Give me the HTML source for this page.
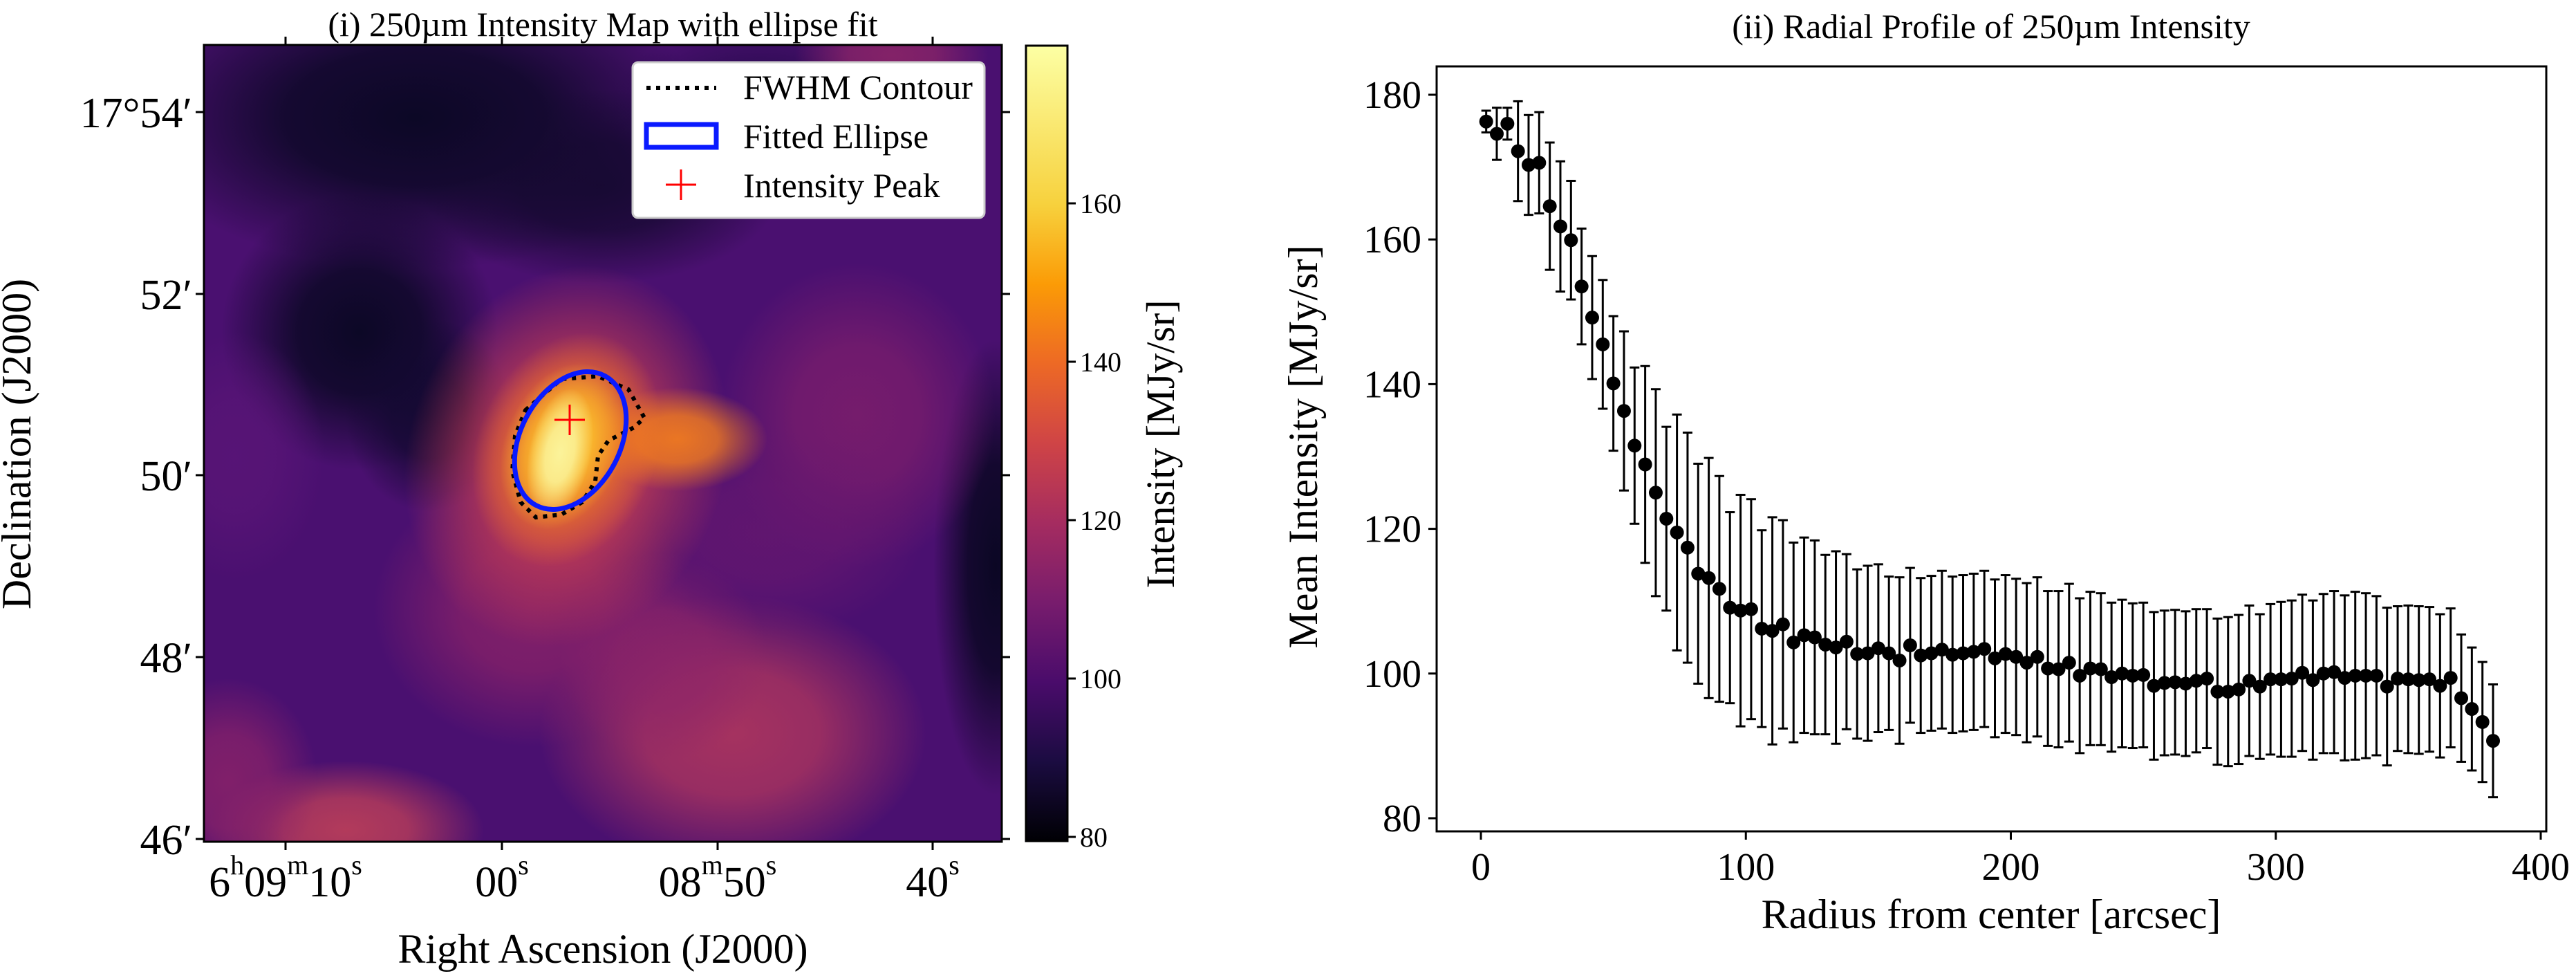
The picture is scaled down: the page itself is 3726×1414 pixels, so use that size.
<!DOCTYPE html>
<html><head><meta charset="utf-8"><style>
html,body{margin:0;padding:0;background:#fff;}
svg, svg text{font-family:"Liberation Serif","DejaVu Serif",serif;}
</style></head><body>
<svg id="fig" width="3726" height="1409" viewBox="0 0 3726 1409" xmlns="http://www.w3.org/2000/svg" font-family="Liberation Serif, serif">
<defs id="defs">
<clipPath id="mapclip"><rect x="295" y="65" width="1154" height="1152"/></clipPath>
<linearGradient id="cbgrad" x1="0" y1="1" x2="0" y2="0">
<stop offset="0" stop-color="#000004"/><stop offset="0.1" stop-color="#1b0c41"/><stop offset="0.2" stop-color="#4a0c6b"/><stop offset="0.3" stop-color="#781c6d"/><stop offset="0.4" stop-color="#a52c60"/><stop offset="0.5" stop-color="#cf4446"/><stop offset="0.6" stop-color="#ed6925"/><stop offset="0.7" stop-color="#fb9b06"/><stop offset="0.8" stop-color="#f7d13d"/><stop offset="1" stop-color="#fcffa4"/>
</linearGradient>
</defs>

<text x="872" y="52" font-size="50" text-anchor="middle">(i) 250µm Intensity Map with ellipse fit</text>
<g clip-path="url(#mapclip)">
<rect x="295" y="65" width="1154" height="1152" fill="#4a1070"/>
<g id="blobs"></g>
</g>
<rect x="295" y="65" width="1154" height="1152" fill="none" stroke="#000" stroke-width="3"/>
<path d="M760,593 L812,548 L865,544 L909,563 L932,604 L917,618 L880,637 L865,659 L861,696 L842,726 L812,744 L775,748 L753,726 L741,681 L745,630 Z" fill="none" stroke="#000" stroke-width="6" stroke-dasharray="6,8"/>
<ellipse cx="825" cy="637" rx="72" ry="106" transform="rotate(28 825 637)" fill="none" stroke="#0a1aff" stroke-width="7"/>
<g stroke="#ff0000" stroke-width="3"><line x1="802" y1="607" x2="846" y2="607"/><line x1="824" y1="585" x2="824" y2="629"/></g>

<g>
<rect x="915" y="90" width="509" height="225" rx="8" fill="#fff" stroke="#ccc" stroke-width="3"/>
<line x1="935" y1="127" x2="1036" y2="127" stroke="#000" stroke-width="6" stroke-dasharray="6,8"/>
<rect x="935" y="180" width="101" height="33" fill="none" stroke="#0a1aff" stroke-width="7"/>
<g stroke="#ff0000" stroke-width="3"><line x1="963" y1="267" x2="1007" y2="267"/><line x1="985" y1="245" x2="985" y2="289"/></g>
<text x="1075" y="143" font-size="50">FWHM Contour</text>
<text x="1075" y="214" font-size="50">Fitted Ellipse</text>
<text x="1075" y="285" font-size="50">Intensity Peak</text>
</g>

<g id="mapaxes"></g>
<text transform="translate(44,642) rotate(-90)" font-size="60" text-anchor="middle">Declination (J2000)</text>
<text x="872" y="1392" font-size="60" text-anchor="middle">Right Ascension (J2000)</text>

<rect x="1484" y="66" width="60" height="1150" fill="url(#cbgrad)" stroke="#000" stroke-width="3"/>
<g id="cbaxis"></g>
<text transform="translate(1698,642) rotate(-90)" font-size="58" text-anchor="middle">Intensity [MJy/sr]</text>

<text x="2880" y="55" font-size="50" text-anchor="middle">(ii) Radial Profile of 250µm Intensity</text>
<g id="profile"></g>
<rect x="2078" y="96" width="1605" height="1106" fill="none" stroke="#000" stroke-width="3"/>
<text transform="translate(1905,646) rotate(-90)" font-size="60" text-anchor="middle">Mean Intensity [MJy/sr]</text>
<text x="2880" y="1342" font-size="60" text-anchor="middle">Radius from center [arcsec]</text>
</svg>
<script>
const radii = [2,6,10,14,18,22,26,30,34,38,42,46,50,54,58,62,66,70,74,78,82,86,90,94,98,102,106,110,114,118,122,126,130,134,138,142,146,150,154,158,162,166,170,174,178,182,186,190,194,198,202,206,210,214,218,222,226,230,234,238,242,246,250,254,258,262,266,270,274,278,282,286,290,294,298,302,306,310,314,318,322,326,330,334,338,342,346,350,354,358,362,366,370,374,378,382];
const meanIntensity = [176.3,174.6,176.0,172.2,170.3,170.6,164.6,161.8,159.9,153.5,149.2,145.5,140.1,136.3,131.5,128.9,125.0,121.4,119.5,117.4,113.8,113.2,111.7,109.1,108.7,108.9,106.2,105.9,106.8,104.3,105.3,105.0,104.0,103.6,104.4,102.7,102.8,103.5,102.8,101.8,103.9,102.5,102.8,103.3,102.6,102.8,103.0,103.4,102.1,102.7,102.3,101.5,102.3,100.7,100.6,101.5,99.7,100.7,100.6,99.5,100.0,99.7,99.8,98.3,98.7,98.8,98.6,99.0,99.3,97.5,97.5,97.8,99.0,98.2,99.2,99.2,99.3,100.1,99.1,100.0,100.2,99.4,99.7,99.7,99.7,98.2,99.3,99.2,99.1,99.2,98.3,99.4,96.6,95.1,93.3,90.7];
const errors = [1.5,3.6,2.2,6.9,6.9,7.0,8.8,9.0,8.2,8.0,8.5,8.9,9.3,11.0,10.8,13.6,14.3,12.7,16.3,15.9,15.2,16.6,15.6,13.2,16.0,15.2,13.6,15.7,14.4,13.8,13.5,13.4,12.4,13.3,12.1,11.7,12.1,11.6,10.6,11.5,10.7,10.7,10.7,10.9,10.8,10.8,10.8,10.8,10.9,10.9,10.8,11.0,11.0,10.7,10.8,10.9,10.7,10.6,10.5,10.3,10.2,10.0,10.0,10.2,10.0,10.0,10.0,9.9,9.6,10.1,10.3,10.3,10.4,10.0,10.4,10.7,10.8,10.8,11.0,11.0,11.2,11.4,11.6,11.4,11.0,10.9,10.0,10.2,10.2,10.0,9.9,9.6,8.8,8.5,8.3,7.8];
const xTicks = [0,100,200,300,400];
const yTicks = [80,100,120,140,160,180];
const cbTicks = [80,100,120,140,160];
const decTickLabels = ["17°54′","52′","50′","48′","46′"];
const raTickLabels = [["6","h","09","m","10","s"],["00","s"],["08","m","50","s"],["40","s"]];

const NS="http://www.w3.org/2000/svg";
const FONT='"Liberation Serif", serif';
function mk(tag, attrs, parent){const e=document.createElementNS(NS,tag);for(const k in attrs)e.setAttribute(k,attrs[k]);parent.appendChild(e);return e;}

// map blobs: cx, cy, rx, ry, color, opacity, rotation
const blobs = [
 [600,170,420,220,'#0c0826',1,0],
 [870,270,260,140,'#14092f',0.9,0],
 [1100,160,220,130,'#240a4a',0.8,0],
 [520,480,200,200,'#0c0826',1,0],
 [620,600,120,140,'#120930',0.9,0],
 [340,660,130,180,'#5a1577',0.8,0],
 [1440,820,90,330,'#0b0724',1,0],
 [1240,600,200,220,'#7a1d6c',0.9,0],
 [1290,80,140,70,'#8a2467',0.9,0],
 [1060,1060,280,200,'#aa345f',0.95,0],
 [960,950,150,150,'#8e2568',0.8,0],
 [500,1200,200,100,'#b83d5a',0.95,0],
 [330,1130,130,150,'#8a2269',0.85,0],
 [770,880,230,200,'#8a2268',0.85,0],
 [1110,770,230,150,'#6a186f',0.7,0],
 [820,660,230,280,'#c43d52',1,18],
 [980,635,130,75,'#ef7a20',0.95,0],
 [820,650,130,175,'#f07a22',1,22],
 [815,645,85,125,'#fbc02e',1,22],
 [810,655,45,95,'#fbf39a',1,12]
];
const defs=document.getElementById('defs');
const bg=document.getElementById('blobs');
blobs.forEach((b,i)=>{
  const g=mk('radialGradient',{id:'bg'+i},defs);
  mk('stop',{offset:0,'stop-color':b[4],'stop-opacity':b[5]},g);
  mk('stop',{offset:0.45,'stop-color':b[4],'stop-opacity':b[5]*0.85},g);
  mk('stop',{offset:1,'stop-color':b[4],'stop-opacity':0},g);
  const e=mk('ellipse',{cx:b[0],cy:b[1],rx:b[2],ry:b[3],fill:'url(#bg'+i+')',transform:`rotate(${b[6]} ${b[0]} ${b[1]})`},bg);
  
  
});

const xS = r => 2142 + r*1533/400;
const yS = v => 1183 - (v-80)*10.46;
const prof = document.getElementById('profile');
radii.forEach((r,i)=>{
  const x=xS(r), v=meanIntensity[i], e=errors[i];
  const g=mk('g',{stroke:'#000','stroke-width':3},prof);
  
  
  mk('line',{x1:x,y1:yS(v+e),x2:x,y2:yS(v-e)},g);
  mk('line',{x1:x-7,y1:yS(v+e),x2:x+7,y2:yS(v+e)},g);
  mk('line',{x1:x-7,y1:yS(v-e),x2:x+7,y2:yS(v-e)},g);
});
radii.forEach((r,i)=>{
  const c=mk('circle',{cx:xS(r),cy:yS(meanIntensity[i]),r:10,fill:'#000'},prof);
  
  
});
xTicks.forEach(t=>{
  const x=xS(t);
  mk('line',{x1:x,y1:1202,x2:x,y2:1214,stroke:'#000','stroke-width':3},prof);
  const tx=mk('text',{x:x,y:1272,'font-size':56,'text-anchor':'middle','font-family':FONT},prof);
  tx.textContent=t;
  
  
});
yTicks.forEach(t=>{
  const y=yS(t);
  mk('line',{x1:2066,y1:y,x2:2078,y2:y,stroke:'#000','stroke-width':3},prof);
  const tx=mk('text',{x:2056,y:y+19,'font-size':56,'text-anchor':'end','font-family':FONT},prof);
  tx.textContent=t;
  
  
});
const cb=document.getElementById('cbaxis');
const cbY = v => 1210 - (v-80)*11.45;
cbTicks.forEach(t=>{
  const y=cbY(t);
  mk('line',{x1:1544,y1:y,x2:1556,y2:y,stroke:'#000','stroke-width':3},cb);
  const tx=mk('text',{x:1562,y:y+14,'font-size':40,'font-family':FONT},cb);
  tx.textContent=t;
  
  
});
const ma=document.getElementById('mapaxes');
const decY=[162,425,687,950,1213];
decTickLabels.forEach((l,i)=>{
  const y=decY[i];
  mk('line',{x1:283,y1:y,x2:295,y2:y,stroke:'#000','stroke-width':3},ma);
  mk('line',{x1:1449,y1:y,x2:1461,y2:y,stroke:'#000','stroke-width':3},ma);
  const tx=mk('text',{x:278,y:y+22,'font-size':62,'text-anchor':'end','font-family':FONT},ma);
  tx.textContent=l;
  
  
});
const raX=[413,726,1038,1349];
raTickLabels.forEach((parts,i)=>{
  const x=raX[i];
  mk('line',{x1:x,y1:1217,x2:x,y2:1229,stroke:'#000','stroke-width':3},ma);
  mk('line',{x1:x,y1:53,x2:x,y2:65,stroke:'#000','stroke-width':3},ma);
  const tx=mk('text',{x:x,y:1296,'font-size':62,'text-anchor':'middle','font-family':FONT},ma);
  
  
  parts.forEach((p,j)=>{
    const ts=mk('tspan',{},tx);
    if(j%2===1){ts.setAttribute('font-size','40');ts.setAttribute('dy','-32');}
    else if(j>0){ts.setAttribute('dy','32');}
    ts.textContent=p;
  });
});
</script>
</body></html>
